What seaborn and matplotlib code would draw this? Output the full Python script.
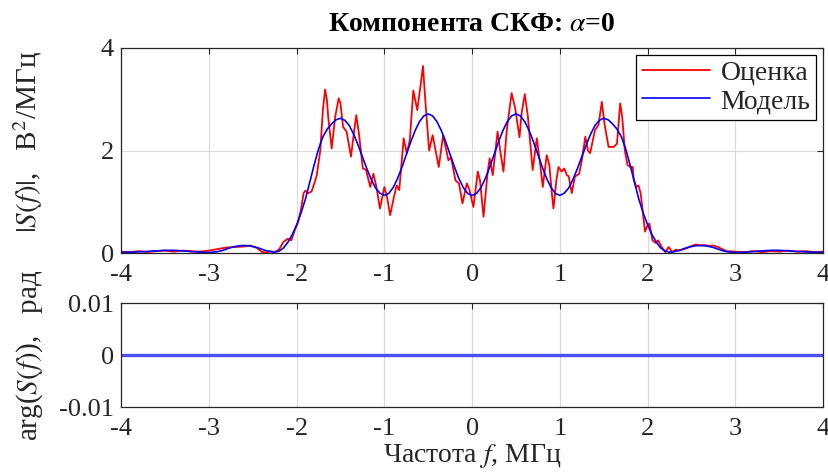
import numpy as np
import pandas as pd
import matplotlib
matplotlib.use("Agg")
import matplotlib.pyplot as plt
import seaborn as sns

# ---------------- data ----------------
title_text = "Компонента СКФ: $\\alpha$=0"
legend_labels = ["Оценка", "Модель"]
x_ticks = [-4, -3, -2, -1, 0, 1, 2, 3, 4]
top_yticks = [0, 2, 4]
bot_yticks = [-0.01, 0, 0.01]
bot_yticklabels = ["-0.01", "0", "0.01"]

# model |S(f)| sampled every 0.05 MHz from -4 to 4
model_f = np.round(np.linspace(-4, 4, 161), 3)
model_vals = [
    0.015, 0.015, 0.02, 0.02, 0.025, 0.03, 0.035, 0.04, 0.045, 0.05,
    0.055, 0.055, 0.055, 0.05, 0.045, 0.04, 0.03, 0.025, 0.02, 0.015,
    0.015, 0.02, 0.03, 0.05, 0.08, 0.11, 0.13, 0.145, 0.15, 0.145,
    0.13, 0.11, 0.08, 0.05, 0.03, 0.02, 0.04, 0.10, 0.21, 0.36,
    0.55, 0.78, 1.05, 1.38, 1.72, 2.03, 2.27, 2.42, 2.52, 2.60,
    2.63, 2.59, 2.49, 2.32, 2.11, 1.88, 1.65, 1.44, 1.27, 1.17,
    1.125, 1.164, 1.277, 1.453, 1.674, 1.92, 2.166, 2.387, 2.563, 2.676,
    2.715, 2.676, 2.563, 2.387, 2.166, 1.92, 1.674, 1.453, 1.277, 1.164,
    1.125, 1.164, 1.277, 1.453, 1.674, 1.92, 2.166, 2.387, 2.563, 2.676,
    2.715, 2.676, 2.563, 2.387, 2.166, 1.92, 1.674, 1.453, 1.277, 1.164,
    1.125, 1.17, 1.27, 1.44, 1.65, 1.88, 2.11, 2.32, 2.49, 2.59,
    2.63, 2.60, 2.52, 2.42, 2.27, 2.03, 1.72, 1.38, 1.05, 0.78,
    0.55, 0.36, 0.21, 0.10, 0.04, 0.02, 0.03, 0.05, 0.08, 0.11,
    0.13, 0.145, 0.15, 0.145, 0.13, 0.11, 0.08, 0.05, 0.03, 0.02,
    0.015, 0.015, 0.02, 0.025, 0.03, 0.04, 0.045, 0.05, 0.055, 0.055,
    0.055, 0.05, 0.045, 0.04, 0.035, 0.03, 0.025, 0.02, 0.02, 0.015,
    0.015,
]

# estimate |S(f)|
est_f = [
    -4.00, -3.90, -3.80, -3.70, -3.60, -3.50, -3.40, -3.30, -3.20, -3.10,
    -3.00, -2.90, -2.80, -2.70, -2.60, -2.53, -2.45, -2.40, -2.35, -2.30,
    -2.25, -2.20, -2.15, -2.10, -2.06, -2.02, -1.98, -1.95, -1.92, -1.90,
    -1.87, -1.83, -1.80, -1.77, -1.73, -1.70, -1.675, -1.655, -1.64, -1.60,
    -1.56, -1.52, -1.50, -1.47, -1.43, -1.38, -1.35, -1.32, -1.29, -1.245,
    -1.21, -1.16, -1.125, -1.09, -1.05, -1.00, -0.97, -0.934, -0.89, -0.86,
    -0.83, -0.78, -0.745, -0.71, -0.67, -0.625, -0.585, -0.56, -0.53, -0.49,
    -0.45, -0.38, -0.33, -0.27, -0.24, -0.19, -0.15, -0.11, -0.06, -0.03,
    0.015, 0.065, 0.09, 0.13, 0.175, 0.20, 0.235, 0.29, 0.32, 0.357,
    0.395, 0.45, 0.49, 0.54, 0.565, 0.60, 0.635, 0.69, 0.737, 0.77,
    0.805, 0.85, 0.88, 0.908, 0.927, 0.96, 0.984, 1.02, 1.05, 1.08,
    1.10, 1.136, 1.17, 1.22, 1.25, 1.29, 1.32, 1.345, 1.40, 1.44,
    1.478, 1.51, 1.555, 1.61, 1.65, 1.687, 1.71, 1.74, 1.77, 1.80,
    1.83, 1.84, 1.87, 1.895, 1.92, 1.95, 1.97, 1.99, 2.02, 2.055,
    2.09, 2.12, 2.16, 2.20, 2.24, 2.28, 2.32, 2.36, 2.40, 2.45,
    2.50, 2.55, 2.60, 2.65, 2.70, 2.75, 2.80, 2.85, 2.90, 3.00,
    3.10, 3.20, 3.30, 3.40, 3.50, 3.60, 3.70, 3.80, 3.90, 4.00,
]
est_vals = [
    0.03, 0.02, 0.04, 0.02, 0.04, 0.05, 0.03, 0.05, 0.04, 0.03,
    0.05, 0.08, 0.11, 0.12, 0.13, 0.15, 0.10, 0.03, 0.01, 0.04,
    0.02, 0.07, 0.22, 0.28, 0.25, 0.45, 0.62, 0.85, 1.17, 1.22,
    1.17, 1.20, 1.35, 1.52, 2.00, 2.79, 3.19, 3.00, 2.66, 2.04,
    2.66, 3.02, 2.92, 2.46, 2.37, 1.88, 2.30, 2.69, 2.34, 1.65,
    1.63, 1.29, 1.55, 1.29, 0.87, 1.29, 1.10, 0.74, 1.10, 1.32,
    1.23, 2.24, 1.95, 2.20, 3.17, 2.79, 3.30, 3.65, 2.90, 2.00,
    2.30, 1.68, 2.30, 1.81, 1.87, 1.42, 1.36, 0.97, 1.36, 1.23,
    0.90, 1.59, 1.42, 0.71, 1.55, 1.85, 1.52, 2.37, 2.00, 1.59,
    2.40, 3.12, 2.83, 2.26, 2.74, 3.10, 2.67, 1.62, 2.24, 1.81,
    1.29, 1.91, 1.72, 1.17, 0.87, 1.42, 1.68, 1.59, 1.65, 1.52,
    1.50, 1.17, 1.49, 1.55, 1.81, 2.27, 2.00, 1.95, 2.40, 2.50,
    2.95, 2.50, 2.07, 2.07, 2.13, 2.92, 2.66, 2.00, 1.72, 1.68,
    1.68, 1.46, 1.29, 1.32, 1.17, 0.71, 0.42, 0.51, 0.58, 0.25,
    0.20, 0.25, 0.12, 0.02, 0.12, 0.02, 0.07, 0.05, 0.07, 0.10,
    0.14, 0.17, 0.15, 0.16, 0.14, 0.15, 0.12, 0.08, 0.04, 0.03,
    0.02, 0.04, 0.02, 0.04, 0.03, 0.05, 0.03, 0.04, 0.02, 0.03,
]

# phase arg(S(f)) – both flat at zero
phase_f = [-4.0, 4.0]
est_phase = [0.0, 0.0]
model_phase = [0.0, 0.0]

# ---------------- style ----------------
sns.set_theme(style="white")
plt.rcParams["font.family"] = ["Liberation Serif", "DejaVu Serif"]
plt.rcParams["mathtext.fontset"] = "stix"
plt.rcParams["axes.edgecolor"] = "#262626"
plt.rcParams["axes.linewidth"] = 0.9

fig = plt.figure(figsize=(8.29, 4.75), dpi=100)
ax1 = fig.add_axes([0.146, 0.467, 0.847, 0.432])
ax2 = fig.add_axes([0.146, 0.143, 0.847, 0.219])

df_est = pd.DataFrame({"f": est_f, "v": est_vals})
df_mod = pd.DataFrame({"f": model_f, "v": model_vals})

sns.lineplot(data=df_est, x="f", y="v", ax=ax1, color="#ff0000", lw=1.3,
             estimator=None, sort=False, label=legend_labels[0])
sns.lineplot(data=df_mod, x="f", y="v", ax=ax1, color="#0000ff", lw=1.2,
             estimator=None, sort=False, label=legend_labels[1])

df_pe = pd.DataFrame({"f": phase_f, "v": est_phase})
df_pm = pd.DataFrame({"f": phase_f, "v": model_phase})
sns.lineplot(data=df_pe, x="f", y="v", ax=ax2, color="#ff0000", lw=1.2,
             estimator=None, legend=False)
sns.lineplot(data=df_pm, x="f", y="v", ax=ax2, color="#4f4ff5", lw=2.4,
             estimator=None, legend=False)

for ax in (ax1, ax2):
    ax.set_xlim(-4, 4)
    ax.set_xticks(x_ticks)
    ax.set_xticklabels([str(t) for t in x_ticks])
    ax.grid(True, color="#d9d9d9", lw=0.8)
    ax.tick_params(direction="in", length=4, width=0.8, top=True, right=True,
                   labelsize=19, colors="#262626", pad=5)
    ax.tick_params(axis="x", pad=8)
    for s in ax.spines.values():
        s.set_visible(True)
        s.set_color("#262626")
    ax.set_xlabel("")

ax1.set_ylim(0, 4)
ax1.set_yticks(top_yticks)
ax1.set_yticklabels([str(t) for t in top_yticks])
ax1.set_ylabel("$|S(f)|$,   В$^2$/МГц", fontsize=21, color="#262626")
ax1.yaxis.set_label_coords(-0.108, 0.54)
ax1.set_title(title_text, fontsize=20, fontweight="bold", color="black", pad=12)

ax2.set_ylim(-0.01, 0.01)
ax2.set_yticks(bot_yticks)
ax2.set_yticklabels(bot_yticklabels)
ax2.set_ylabel("arg($S(f)$),   рад", fontsize=21, color="#262626")
ax2.yaxis.set_label_coords(-0.108, 0.5)
ax2.set_xlabel("Частота $f$, МГц", fontsize=20, color="#262626", labelpad=1)

leg = ax1.legend(loc="upper right", fontsize=20, frameon=True, fancybox=False,
                 edgecolor="black", framealpha=1, handlelength=2.45,
                 borderpad=0.2, labelspacing=0.1, handletextpad=0.4,
                 borderaxespad=0.25)
leg.get_frame().set_linewidth(0.9)

fig.savefig("out.png", dpi=100)
